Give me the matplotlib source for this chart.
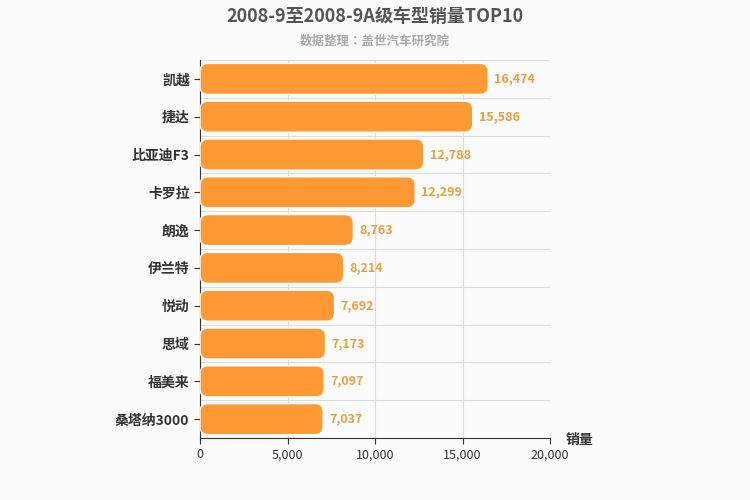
import matplotlib
matplotlib.use("Agg")
import matplotlib.pyplot as plt
from matplotlib.patches import FancyBboxPatch
from matplotlib import font_manager as fm

cjk = [f.name for f in fm.fontManager.ttflist if "CJK" in f.name]
pref = [n for n in ["Noto Sans CJK SC", "Noto Sans CJK JP", "Noto Sans CJK TC", "Noto Sans CJK KR"] if n in cjk] + cjk
plt.rcParams["font.family"] = "sans-serif"
plt.rcParams["font.sans-serif"] = pref[:1] + ["DejaVu Sans"]

categories = ["凯越", "捷达", "比亚迪F3", "卡罗拉", "朗逸", "伊兰特", "悦动", "思域", "福美来", "桑塔纳3000"]
values = [16474, 15586, 12788, 12299, 8763, 8214, 7692, 7173, 7097, 7037]
xticks = [0, 5000, 10000, 15000, 20000]

fig = plt.figure(figsize=(7.5, 5), dpi=100)
fig.patch.set_facecolor("#fbfbfb")
ax = fig.add_axes([200/750, 1-438/500, 350/750, 378/500])
ax.set_facecolor("#fbfbfb")
ax.set_xlim(0, 20000)
n = len(categories)
ax.set_ylim(n - 0.5, -0.5)

xu = 20000/350
yu = n/378
h = 0.82
for i, v in enumerate(values):
    p = FancyBboxPatch((0, i - h/2), v, h, boxstyle="round,pad=0,rounding_size=%f" % (8*xu),
                       mutation_aspect=yu/xu, facecolor="#ff9933", edgecolor="white", linewidth=1, zorder=3)
    ax.add_patch(p)
    ax.text(v + 6*xu, i, f"{v:,}", va="center", ha="left", color="#e8a040",
            fontsize=9, fontweight="bold", zorder=4)

ax.set_yticks(range(n))
ax.set_yticklabels(categories, fontsize=10, fontweight="bold", color="#333333")
ax.set_xticks(xticks)
ax.set_xticklabels([f"{t:,}" for t in xticks], fontsize=9, color="#333333")
for i in range(n + 1):
    ax.axhline(i - 0.5, color="#dddddd", lw=0.8, zorder=1)
for t in xticks[1:]:
    ax.axvline(t, color="#dddddd", lw=0.8, zorder=1)
for s in ["top", "right"]:
    ax.spines[s].set_visible(False)
ax.spines["left"].set_color("#333333")
ax.spines["bottom"].set_color("#333333")
ax.tick_params(axis="y", length=4, color="#333333")
ax.tick_params(axis="x", length=4, color="#333333")

fig.text(375/750, 1-16/500, "2008-9至2008-9A级车型销量TOP10", ha="center", va="center",
         fontsize=13, fontweight="bold", color="#555555")
fig.text(375/750, 1-41/500, "数据整理：盖世汽车研究院", ha="center", va="center",
         fontsize=9, fontweight="bold", color="#aaaaaa")
fig.text(580/750, 1-440/500, "销量", ha="center", va="center", fontsize=10, fontweight="bold", color="#333333")

fig.savefig("out.png", dpi=100, facecolor=fig.get_facecolor())
